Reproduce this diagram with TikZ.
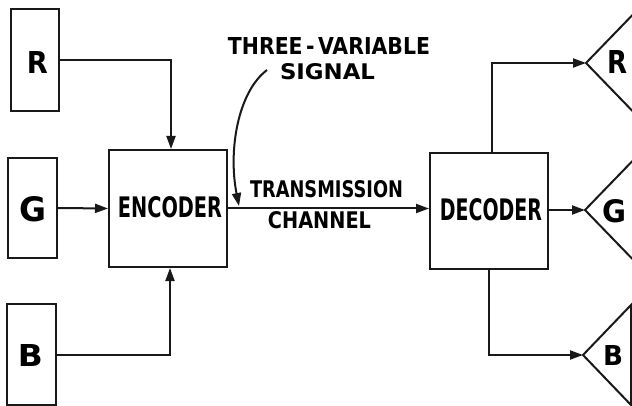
\documentclass[tikz,border=0pt]{standalone}
\usepackage{fontspec}
\usepackage{graphicx}
\setmainfont{DejaVu Sans}
\usetikzlibrary{arrows.meta}
\newcommand{\fitlbl}[3]{\resizebox{#1pt}{#2pt}{#3}}
\tikzset{
  line/.style={line width=2pt, draw=black!90},
  arr/.style={line, arrows={-Triangle[length=13pt,width=9pt]}},
  srcbox/.style={line, rectangle, inner sep=0pt},
  blk/.style={line, rectangle, inner sep=0pt, minimum width=118pt},
  txt/.style={inner sep=0pt, anchor=center},
  tri/.style={line, line join=miter}
}
\begin{document}
\begin{tikzpicture}[x=1pt,y=-1pt]
\useasboundingbox (0,0) rectangle (632,406);
\clip (0,0) rectangle (632,406);
\fill[white] (0,0) rectangle (632,406);
% source boxes
\node[srcbox, minimum width=48pt, minimum height=102pt] (R) at (35,60) {};
\node[srcbox, minimum width=49pt, minimum height=100pt] (G) at (32.5,208) {};
\node[srcbox, minimum width=49pt, minimum height=101pt] (B) at (31.5,354.5) {};
\node[txt] (Rl) at (37.5,63) {\fitlbl{21}{22}{\bfseries R}};
\node[txt] (Gl) at (33.5,209) {\fitlbl{27}{25}{\bfseries G}};
\node[txt] (Bl) at (30.5,355) {\fitlbl{25}{22}{\bfseries B}};
% encoder / decoder
\node[blk, minimum height=117pt] (ENC) at (168,208.5) {};
\node[txt] (ENCl) at (170,207.5) {\fitlbl{104}{21}{\bfseries ENCODER}};
\node[blk, minimum height=116pt] (DEC) at (489,211) {};
\node[txt] (DECl) at (491,209.5) {\fitlbl{102}{22}{\bfseries DECODER}};
% texts
\node[txt] (T1) at (329,46.5) {\fitlbl{202}{17}{\bfseries THREE\,-\,VARIABLE}};
\node[txt] (T2) at (327.5,72) {\fitlbl{95}{16}{\bfseries SIGNAL}};
\node[txt] (T3) at (326.5,189.5) {\fitlbl{153}{17}{\bfseries TRANSMISSION}};
\node[txt] (T4) at (319.5,220.5) {\fitlbl{103}{17}{\bfseries CHANNEL}};
% receivers (triangles)
\coordinate (Rt) at (586,63);
\coordinate (Gt) at (585,210);
\coordinate (Bt) at (583,355);
\draw[tri] (Rt) -- ++(60,-62) -- ++(0,124) -- cycle;
\draw[tri] (Gt) -- ++(60,-62) -- ++(0,124) -- cycle;
\draw[tri] (Bt) -- (631,305) -- (631,405) -- cycle;
\node[txt] (Rr) at (617,62) {\fitlbl{20}{23}{\bfseries R}};
\node[txt] (Gr) at (614,211.5) {\fitlbl{24}{23}{\bfseries G}};
\node[txt] (Br) at (613,355) {\fitlbl{20}{20}{\bfseries B}};
% connectors
\draw[arr] (R.east) -| ([xshift=3pt]ENC.north);
\draw[arr] (G.east) -- (ENC.west);
\draw[arr] (B.east) -| ([xshift=2pt]ENC.south);
\draw[arr] (ENC.east) -- (ENC.east -| DEC.west);
\draw[arr] ([xshift=3pt]DEC.north) |- (Rt);
\draw[arr] (DEC.east |- Gt) -- (Gt);
\draw[arr] (DEC.south) |- (Bt);
% pointer
\coordinate (sig) at (267,70);
\coordinate (sigend) at (239,206);
\draw[arr] (sig) .. controls (238,92) and (228,150) .. (sigend);
\end{tikzpicture}
\end{document}
